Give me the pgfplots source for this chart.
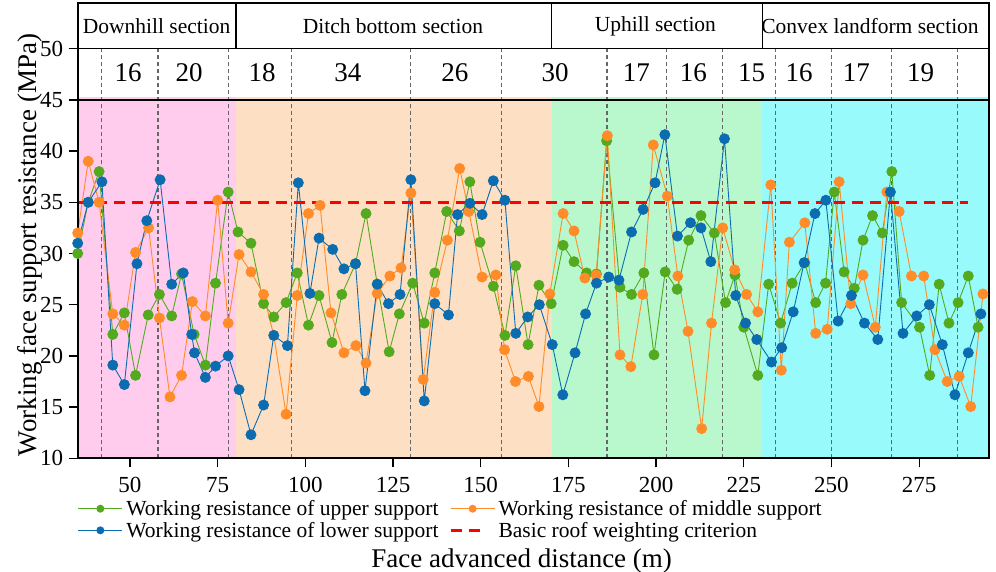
\documentclass[border=0pt]{standalone}
\usepackage{fontspec}
\setmainfont{Liberation Serif}
\usepackage{pgfplots}
\pgfplotsset{compat=1.18}
\definecolor{cG}{RGB}{84,170,30}
\definecolor{cO}{RGB}{255,140,40}
\definecolor{cB}{RGB}{12,108,176}
\definecolor{bgPink}{RGB}{255,204,238}
\definecolor{bgPeach}{RGB}{253,223,196}
\definecolor{bgGreen}{RGB}{184,248,204}
\definecolor{bgCyan}{RGB}{152,250,250}
\pgfplotsset{
  mkleg/.style={legend image code/.code={\draw[##1,mark size=3.5pt,mark repeat=2,mark phase=2] plot coordinates {(0pt,0pt) (22pt,0pt) (44pt,0pt)};}},
  dashleg/.style={legend image code/.code={\draw[##1] (0pt,0pt) -- (36pt,0pt);}},
}
\begin{document}
\begin{tikzpicture}[x=1pt,y=1pt]
\useasboundingbox (0,0) rectangle (996,572);
\begin{axis}[
  at={(77.7pt,113.7pt)}, anchor=south west,
  scale only axis, width=911.6pt, height=455pt,
  xmin=35.1, xmax=295, ymin=10, ymax=54.43,
  xtick={50,75,...,275}, ytick={10,15,...,50},
  tick pos=left, tick align=outside, major tick length=9pt,
  every tick/.style={black, line width=1.3pt},
  axis line style={line width=2pt},
  axis on top, clip=false,
  tick label style={font=\fontsize{23}{26}\selectfont},
  xticklabel style={inner sep=0pt, yshift=-9.5pt},
  yticklabel style={xshift=-2pt},
  /pgf/number format/assume math mode=true,
  xlabel={Face advanced distance (m)},
  ylabel={Working face support resistance (MPa)},
  label style={font=\fontsize{27}{30}\selectfont},
  xlabel style={at={(axis description cs:0.487,-0.226)}, anchor=center},
  ylabel style={at={(axis description cs:-0.052,0.469)}, anchor=center},
  legend columns=2, legend cell align=left,
  legend style={at={(axis description cs:0,-0.091)}, anchor=north west,
    draw=none, fill=none, font=\fontsize{21.5}{25}\selectfont,
    inner sep=0pt, row sep=4pt, nodes={inner sep=0.5pt},
    /tikz/every odd column/.append style={column sep=3pt},
    /tikz/every even column/.append style={column sep=10pt}},
]
% backgrounds
\fill[bgPink] (axis cs:35.1,10) rectangle (axis cs:80.2,45.25);
\fill[bgPeach] (axis cs:80.2,10) rectangle (axis cs:170.2,45.25);
\fill[bgGreen] (axis cs:170.2,10) rectangle (axis cs:230.3,45.25);
\fill[bgCyan] (axis cs:230.3,10) rectangle (axis cs:295,45.25);
\pgfplotsinvokeforeach{42,58,78,96,130,156,186,203,219,234,250,267,286}{
  \draw[black!60, line width=1.1pt, dash pattern=on 4pt off 3pt] (axis cs:#1,10) -- (axis cs:#1,50);
}
\draw[line width=2.6pt] (axis cs:35.1,45) -- (axis cs:295,45);
\draw[line width=1.6pt] (axis cs:35.1,50) -- (axis cs:295,50);
\draw[line width=1.6pt] (axis cs:80.2,50) -- (axis cs:80.2,54.43);
\draw[line width=1.6pt] (axis cs:170.2,50) -- (axis cs:170.2,54.43);
\draw[line width=1.6pt] (axis cs:230.3,50) -- (axis cs:230.3,54.43);
% section labels
\begin{scope}[every node/.style={font=\fontsize{21.5}{24}\selectfont}]
\node at (axis cs:57.6,52.2) {Downhill section};
\node at (axis cs:125.0,52.2) {Ditch bottom section};
\node at (axis cs:199.8,52.2) {Uphill section};
\node at (axis cs:261.0,52.2) {Convex landform section};
\end{scope}
\begin{scope}[every node/.style={font=\fontsize{27}{30}\selectfont}]
\node at (axis cs:49.5,47.65) {16};
\node at (axis cs:66.9,47.65) {20};
\node at (axis cs:87.7,47.65) {18};
\node at (axis cs:112.1,47.65) {34};
\node at (axis cs:142.6,47.65) {26};
\node at (axis cs:171.2,47.65) {30};
\node at (axis cs:194.4,47.65) {17};
\node at (axis cs:210.6,47.65) {16};
\node at (axis cs:227.2,47.65) {15};
\node at (axis cs:240.8,47.65) {16};
\node at (axis cs:257.1,47.65) {17};
\node at (axis cs:275.4,47.65) {19};
\end{scope}

\addplot[color=cG, line width=0.9pt, mark=*, mark size=5pt, mark options={solid,fill=cG,draw=cG}, mkleg]
coordinates {(35.1,30.0)(38.1,35.0)(41.2,38.0)(45.1,22.1)(48.4,24.2)(51.6,18.1)(55.2,24.0)(58.4,26.0)(61.9,23.9)(64.7,28.0)(68.3,22.1)(71.5,19.1)(74.4,27.1)(78.0,36.0)(80.8,32.1)(84.5,31.0)(88.1,25.1)(91.0,23.8)(94.5,25.2)(97.7,28.1)(100.9,23.0)(103.9,25.9)(107.6,21.3)(110.4,26.0)(114.3,29.0)(117.3,33.9)(120.5,27.0)(123.9,20.4)(126.8,24.1)(130.6,27.1)(133.9,23.2)(136.9,28.1)(140.3,34.1)(143.9,32.2)(146.9,37.0)(149.8,31.1)(153.6,26.8)(156.9,22.0)(160.0,28.8)(163.5,21.1)(166.6,26.9)(170.1,25.1)(173.5,30.8)(176.6,29.2)(180.2,28.1)(183.0,28.0)(185.9,41.0)(189.7,26.7)(193.0,26.0)(196.5,28.1)(199.4,20.1)(202.6,28.2)(206.0,26.5)(209.3,31.3)(212.8,33.7)(216.6,32.0)(219.8,25.2)(222.5,27.9)(225.0,22.8)(229.0,18.1)(232.1,27.0)(235.5,23.2)(238.8,27.1)(242.4,29.1)(245.5,25.2)(248.3,27.1)(250.8,36.0)(253.6,28.2)(256.5,26.6)(259.0,31.3)(261.7,33.7)(264.5,32.0)(267.2,38.0)(270.0,25.2)(275.1,22.8)(278.0,18.1)(280.7,27.0)(283.5,23.2)(286.1,25.2)(289.0,27.8)(291.8,22.8)};
\addlegendentry{Working resistance of upper support}

\addplot[color=cO, line width=0.9pt, mark=*, mark size=5pt, mark options={solid,fill=cO,draw=cO}, mkleg]
coordinates {(35.1,32.0)(38.1,39.0)(41.2,35.0)(45.1,24.1)(48.4,23.0)(51.6,30.1)(55.3,32.5)(58.4,23.7)(61.4,16.0)(64.7,18.1)(67.8,25.3)(71.5,23.9)(75.0,35.2)(78.0,23.2)(81.1,29.9)(84.5,28.2)(88.1,26.0)(91.0,22.0)(94.5,14.3)(97.7,25.9)(100.9,33.9)(104.2,34.7)(107.3,24.2)(111.0,20.3)(114.4,21.0)(117.3,19.3)(120.5,26.1)(124.1,27.8)(127.3,28.6)(130.1,35.9)(133.6,17.7)(136.9,26.2)(140.5,31.3)(144.0,38.3)(146.6,34.1)(150.4,27.7)(154.3,27.9)(156.8,20.6)(159.9,17.5)(163.6,18.0)(166.6,15.05)(169.7,26.05)(173.5,33.9)(176.6,32.2)(179.7,27.6)(182.9,27.9)(186.1,41.5)(189.7,20.1)(192.8,18.95)(196.2,26.0)(199.2,40.6)(203.2,35.6)(206.2,27.8)(209.1,22.4)(213.0,12.9)(215.8,23.2)(219.0,32.5)(222.4,28.4)(225.8,26.0)(229.0,24.3)(232.7,36.7)(235.7,18.6)(238.0,31.1)(242.4,33.0)(245.5,22.2)(248.8,22.6)(252.2,37.0)(255.5,25.1)(259.0,27.9)(262.5,22.8)(265.8,36.0)(269.3,34.1)(272.8,27.8)(276.3,27.8)(279.5,20.6)(283.0,17.5)(286.4,18.0)(289.7,15.05)(293.2,26.05)};
\addlegendentry{Working resistance of middle support}

\addplot[color=cB, line width=0.9pt, mark=*, mark size=5pt, mark options={solid,fill=cB,draw=cB}, mkleg]
coordinates {(35.1,31.0)(38.1,35.0)(42.0,37.0)(45.1,19.1)(48.4,17.2)(52.0,29.0)(54.8,33.2)(58.6,37.2)(61.9,27.0)(65.2,28.1)(67.6,22.1)(68.4,20.3)(71.5,17.9)(74.4,19.0)(78.0,20.0)(81.1,16.7)(84.5,12.3)(88.1,15.2)(91.0,22.0)(94.9,21.0)(98.0,36.9)(101.3,26.1)(103.9,31.5)(107.8,30.4)(111.0,28.5)(114.3,29.0)(117.0,16.6)(120.5,27.0)(123.7,25.1)(127.0,26.0)(130.1,37.2)(133.9,15.6)(136.9,25.1)(140.8,24.0)(143.4,33.8)(146.9,34.9)(150.4,33.8)(153.6,37.1)(156.9,35.2)(160.0,22.2)(163.4,23.8)(166.7,25.0)(170.4,21.1)(173.4,16.2)(176.9,20.3)(179.9,24.1)(183.0,27.1)(186.5,27.7)(189.4,27.4)(193.0,32.1)(196.3,34.3)(199.7,36.9)(202.5,41.6)(206.1,31.7)(209.8,33.0)(212.8,32.5)(215.6,29.2)(219.5,41.2)(222.7,25.9)(225.5,23.2)(228.7,21.6)(232.9,19.4)(235.8,20.8)(239.1,24.3)(242.2,29.1)(245.3,33.9)(248.4,35.2)(251.9,23.4)(255.7,25.9)(259.4,23.2)(263.2,21.6)(266.8,36.0)(270.4,22.2)(274.3,23.9)(277.9,25.0)(281.6,21.1)(285.2,16.2)(289.0,20.3)(292.6,24.1)};
\addlegendentry{Working resistance of lower support}

\addplot[color=red, line width=3pt, dash pattern=on 11pt off 7pt, dashleg]
coordinates {(35.1,35) (289,35)};
\addlegendentry{Basic roof weighting criterion}
\end{axis}
\end{tikzpicture}
\end{document}
